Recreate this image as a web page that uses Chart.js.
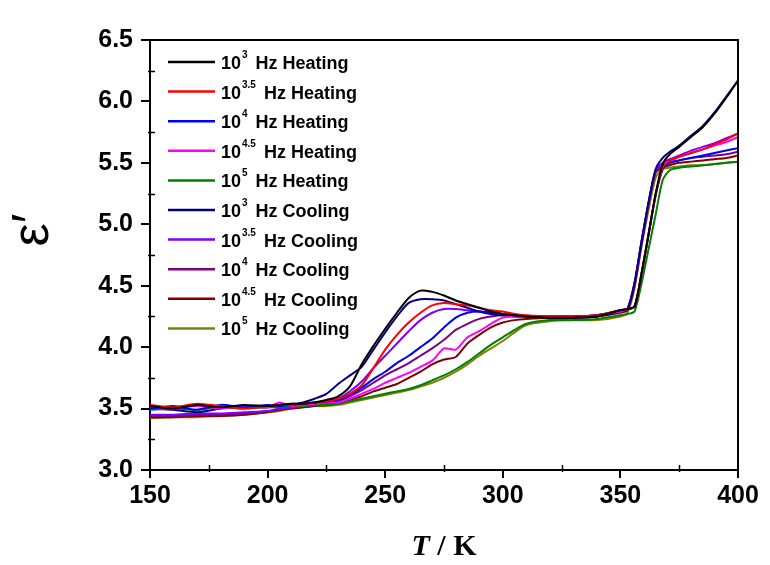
<!DOCTYPE html>
<html>
<head>
<meta charset="utf-8">
<script src="https://cdn.jsdelivr.net/npm/chart.js@4/dist/chart.umd.min.js"></script>
<style>
  html, body { margin: 0; padding: 0; background: #fff; }
  #wrap { width: 770px; height: 565px; }
</style>
</head>
<body>
<div id="wrap"><canvas id="permChart"></canvas></div>
<script>
"use strict";

// temperatures (K) shared by every curve
const temps = [150, 160, 170, 180, 190, 200, 205, 210, 215, 220, 225,
  230, 235, 240, 245, 250, 255, 260, 265, 270, 275, 280, 285, 290, 295, 300, 305, 310,
  320, 330, 340, 350,
  353, 356, 359, 362, 365, 368, 371, 375, 380, 385, 390, 395, 400];

const exponents = ["3", "3.5", "4", "4.5", "5", "3", "3.5", "4", "4.5", "5"];
const modes = ["Heating", "Heating", "Heating", "Heating", "Heating",
  "Cooling", "Cooling", "Cooling", "Cooling", "Cooling"];
const colors = ["#000000", "#ff0000", "#0000ff", "#ff00ff", "#008000",
  "#000080", "#8000ff", "#800080", "#800000", "#808000"];

const heat3 = [3.52, 3.50, 3.53, 3.51, 3.53, 3.52, 3.53, 3.54, 3.54, 3.55, 3.57,
  3.60, 3.68, 3.86, 4.01, 4.15, 4.28, 4.40, 4.46, 4.45, 4.42, 4.38, 4.35, 4.32, 4.29, 4.27, 4.26, 4.25,
  4.24, 4.24, 4.25, 4.30,
  4.31, 4.33, 4.60, 4.92, 5.25, 5.49, 5.57, 5.63, 5.71, 5.79, 5.90, 6.03, 6.17];
const heat35 = [3.53, 3.51, 3.54, 3.52, 3.50, 3.52, 3.53, 3.53, 3.54, 3.55, 3.56,
  3.58, 3.62, 3.69, 3.83, 3.98, 4.10, 4.20, 4.28, 4.34, 4.36, 4.35, 4.34, 4.32, 4.30, 4.29, 4.27, 4.26,
  4.25, 4.25, 4.26, 4.30,
  4.31, 4.33, 4.60, 4.92, 5.24, 5.46, 5.52, 5.55, 5.58, 5.61, 5.65, 5.69, 5.74];
const heat4 = [3.50, 3.52, 3.49, 3.53, 3.51, 3.53, 3.52, 3.53, 3.54, 3.55, 3.56,
  3.57, 3.61, 3.67, 3.74, 3.80, 3.87, 3.93, 4.00, 4.07, 4.16, 4.24, 4.28, 4.29, 4.28, 4.27, 4.26, 4.25,
  4.25, 4.25, 4.26, 4.30,
  4.31, 4.33, 4.60, 4.92, 5.24, 5.45, 5.50, 5.52, 5.54, 5.56, 5.58, 5.60, 5.62];
const heat45 = [3.51, 3.50, 3.52, 3.50, 3.52, 3.51, 3.55, 3.52, 3.53, 3.54, 3.55,
  3.55, 3.58, 3.62, 3.66, 3.71, 3.75, 3.79, 3.84, 3.89, 3.99, 3.98, 4.08, 4.13, 4.19, 4.24, 4.25, 4.25,
  4.25, 4.25, 4.26, 4.29,
  4.31, 4.33, 4.60, 4.92, 5.24, 5.46, 5.51, 5.55, 5.58, 5.61, 5.64, 5.67, 5.71];
const heat5 = [3.49, 3.50, 3.49, 3.51, 3.50, 3.51, 3.51, 3.52, 3.52, 3.53, 3.53,
  3.54, 3.56, 3.58, 3.60, 3.62, 3.64, 3.66, 3.69, 3.73, 3.77, 3.82, 3.88, 3.95, 4.02, 4.08, 4.14, 4.19,
  4.22, 4.22, 4.23, 4.26,
  4.27, 4.29, 4.52, 4.80, 5.08, 5.36, 5.44, 5.46, 5.47, 5.48, 5.49, 5.50, 5.51];
const cool3 = [3.50, 3.49, 3.47, 3.50, 3.52, 3.51, 3.52, 3.53, 3.55, 3.58, 3.62,
  3.70, 3.77, 3.84, 3.98, 4.12, 4.25, 4.36, 4.39, 4.39, 4.38, 4.35, 4.32, 4.29, 4.27, 4.26, 4.25, 4.25,
  4.24, 4.24, 4.25, 4.29,
  4.31, 4.52, 4.86, 5.18, 5.45, 5.54, 5.59, 5.64, 5.72, 5.80, 5.91, 6.04, 6.17];
const cool35 = [3.45, 3.45, 3.46, 3.46, 3.47, 3.48, 3.50, 3.51, 3.52, 3.53, 3.55,
  3.58, 3.64, 3.72, 3.83, 3.93, 4.03, 4.13, 4.22, 4.28, 4.31, 4.31, 4.30, 4.29, 4.28, 4.27, 4.26, 4.25,
  4.25, 4.25, 4.26, 4.29,
  4.31, 4.52, 4.86, 5.18, 5.44, 5.50, 5.53, 5.56, 5.60, 5.63, 5.66, 5.70, 5.74];
const cool4 = [3.44, 3.44, 3.45, 3.45, 3.46, 3.48, 3.49, 3.51, 3.52, 3.53, 3.54,
  3.56, 3.60, 3.65, 3.71, 3.77, 3.82, 3.87, 3.93, 3.99, 4.06, 4.14, 4.19, 4.23, 4.25, 4.26, 4.25, 4.25,
  4.25, 4.25, 4.26, 4.29,
  4.31, 4.52, 4.86, 5.18, 5.43, 5.48, 5.50, 5.52, 5.54, 5.55, 5.56, 5.57, 5.59];
const cool45 = [3.43, 3.43, 3.44, 3.44, 3.45, 3.47, 3.49, 3.50, 3.51, 3.52, 3.53,
  3.54, 3.57, 3.60, 3.64, 3.67, 3.70, 3.75, 3.80, 3.86, 3.90, 3.92, 4.03, 4.10, 4.16, 4.20, 4.22, 4.23,
  4.24, 4.24, 4.25, 4.28,
  4.30, 4.50, 4.84, 5.16, 5.42, 5.46, 5.48, 5.50, 5.51, 5.52, 5.53, 5.54, 5.56];
const cool5 = [3.42, 3.43, 3.43, 3.44, 3.45, 3.47, 3.48, 3.50, 3.51, 3.52, 3.52,
  3.53, 3.55, 3.57, 3.59, 3.61, 3.63, 3.65, 3.68, 3.71, 3.75, 3.80, 3.86, 3.93, 3.99, 4.05, 4.12, 4.18,
  4.21, 4.22, 4.22, 4.25,
  4.28, 4.48, 4.82, 5.12, 5.38, 5.45, 5.46, 5.47, 5.48, 5.48, 5.49, 5.50, 5.51];

const series = [heat3, heat35, heat4, heat45, heat5, cool3, cool35, cool4, cool45, cool5];

const SANS = "'Liberation Sans', Arial, sans-serif";
const SERIF = "'Liberation Serif', 'Times New Roman', serif";

// frame on top/right + minor ticks
const framePlugin = {
  id: "frame",
  afterDraw(chart) {
    const { ctx, chartArea: a } = chart;
    const xs = chart.scales.x, ys = chart.scales.y;
    ctx.save();
    ctx.strokeStyle = "#000";
    ctx.lineWidth = 2;
    ctx.beginPath();
    ctx.moveTo(a.left, a.top); ctx.lineTo(a.right, a.top); ctx.lineTo(a.right, a.bottom);
    ctx.stroke();
    ctx.lineWidth = 1.5;
    ctx.beginPath();
    for (let v = 3.25; v < 6.5; v += 0.5) {
      const y = Math.round(ys.getPixelForValue(v)) + 0.5;
      ctx.moveTo(a.left - 2, y); ctx.lineTo(a.left + 5, y);
    }
    for (let t = 175; t < 400; t += 50) {
      const x = Math.round(xs.getPixelForValue(t)) + 0.5;
      ctx.moveTo(x, a.bottom + 2); ctx.lineTo(x, a.bottom - 5);
    }
    ctx.stroke();
    ctx.restore();
  }
};

// legend with superscript exponents
const legendPlugin = {
  id: "supLegend",
  afterDraw(chart) {
    const ctx = chart.ctx;
    const x0 = chart.chartArea.left + 18;
    const y0 = 62, dy = 29.6;
    ctx.save();
    ctx.textBaseline = "alphabetic";
    exponents.forEach((ex, i) => {
      const y = y0 + i * dy;
      ctx.strokeStyle = colors[i];
      ctx.lineWidth = 2.5;
      ctx.beginPath();
      ctx.moveTo(x0, y); ctx.lineTo(x0 + 47, y);
      ctx.stroke();
      ctx.fillStyle = "#000";
      let x = x0 + 53;
      ctx.font = "bold 18px " + SANS;
      ctx.fillText("10", x, y + 7);
      x += ctx.measureText("10").width + 1;
      ctx.font = "bold 10px " + SANS;
      ctx.fillText(ex, x, y - 4);
      x += ctx.measureText(ex).width + 3;
      ctx.font = "bold 18px " + SANS;
      ctx.fillText(" Hz " + modes[i], x, y + 7);
    });
    ctx.restore();
  }
};

// axis titles: rotated epsilon prime, and italic T / K
const titlePlugin = {
  id: "axisTitles",
  afterDraw(chart) {
    const ctx = chart.ctx;
    const a = chart.chartArea;
    ctx.save();
    ctx.fillStyle = "#000";
    ctx.textBaseline = "alphabetic";
    ctx.font = "italic bold 30px " + SERIF;
    const wT = ctx.measureText("T").width;
    ctx.font = "bold 30px " + SERIF;
    const wR = ctx.measureText(" / K").width;
    const x = (a.left + a.right) / 2 - (wT + wR) / 2;
    ctx.font = "italic bold 30px " + SERIF;
    ctx.fillText("T", x, 555);
    ctx.font = "bold 30px " + SERIF;
    ctx.fillText(" / K", x + wT, 555);

    ctx.translate(34, 230);
    ctx.rotate(-Math.PI / 2);
    ctx.font = "52px " + SANS;
    ctx.textAlign = "center";
    ctx.textBaseline = "middle";
    ctx.fillText("ε′", 0, 0);
    ctx.restore();
  }
};

const datasets = series.map((vals, i) => ({
  label: "10^" + exponents[i] + " Hz " + modes[i],
  data: temps.map((t, j) => ({ x: t, y: vals[j] })),
  borderColor: colors[i],
  backgroundColor: colors[i],
  borderWidth: 2,
  pointRadius: 0,
  tension: 0.25,
  fill: false
}));

new Chart(document.getElementById("permChart"), {
  type: "line",
  data: { datasets: datasets },
  options: {
    responsive: true,
    maintainAspectRatio: false,
    animation: false,
    layout: { padding: { left: 0, top: 40, right: 32, bottom: 0 } },
    plugins: {
      legend: { display: false },
      tooltip: { enabled: false }
    },
    scales: {
      x: {
        type: "linear",
        min: 150,
        max: 400,
        afterFit(axis) { axis.height = 95; },
        ticks: {
          stepSize: 50,
          color: "#000",
          padding: 3,
          font: { family: SANS, size: 25, weight: "bold" }
        },
        grid: { drawOnChartArea: false, drawTicks: true, tickLength: 8, color: "#000", lineWidth: 2 },
        border: { display: true, color: "#000", width: 2 }
      },
      y: {
        min: 3.0,
        max: 6.5,
        afterFit(axis) { axis.width = 150; },
        ticks: {
          stepSize: 0.5,
          color: "#000",
          padding: 8,
          font: { family: SANS, size: 25, weight: "bold" },
          callback: v => v.toFixed(1)
        },
        grid: { drawOnChartArea: false, drawTicks: true, tickLength: 9, color: "#000", lineWidth: 2 },
        border: { display: true, color: "#000", width: 2 }
      }
    }
  },
  plugins: [framePlugin, legendPlugin, titlePlugin]
});
</script>
</body>
</html>
